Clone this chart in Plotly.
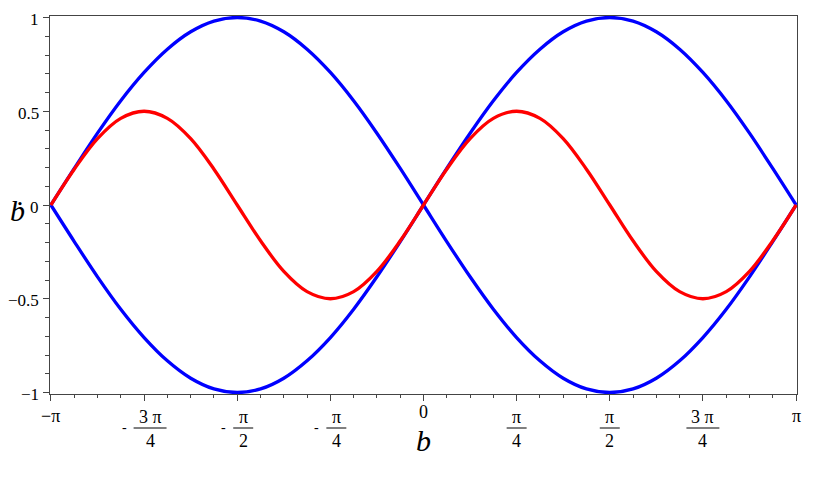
import math
import plotly.graph_objects as go

# b values, steps of pi/16 from -pi to pi
b = [-3.142, -2.945, -2.749, -2.553, -2.356, -2.160, -1.963, -1.767, -1.571,
     -1.374, -1.178, -0.982, -0.785, -0.589, -0.393, -0.196, 0.000,
     0.196, 0.393, 0.589, 0.785, 0.982, 1.178, 1.374, 1.571,
     1.767, 1.963, 2.160, 2.356, 2.553, 2.749, 2.945, 3.142]

blue_upper = [0, 0.195, 0.383, 0.556, 0.707, 0.831, 0.924, 0.981, 1.000,
              0.981, 0.924, 0.831, 0.707, 0.556, 0.383, 0.195, 0,
              -0.195, -0.383, -0.556, -0.707, -0.831, -0.924, -0.981, -1.000,
              -0.981, -0.924, -0.831, -0.707, -0.556, -0.383, -0.195, 0]

blue_lower = [0, -0.195, -0.383, -0.556, -0.707, -0.831, -0.924, -0.981, -1.000,
              -0.981, -0.924, -0.831, -0.707, -0.556, -0.383, -0.195, 0,
              0.195, 0.383, 0.556, 0.707, 0.831, 0.924, 0.981, 1.000,
              0.981, 0.924, 0.831, 0.707, 0.556, 0.383, 0.195, 0]

red = [0, 0.191, 0.354, 0.462, 0.500, 0.462, 0.354, 0.191, 0,
       -0.191, -0.354, -0.462, -0.500, -0.462, -0.354, -0.191, 0,
       0.191, 0.354, 0.462, 0.500, 0.462, 0.354, 0.191, 0,
       -0.191, -0.354, -0.462, -0.500, -0.462, -0.354, -0.191, 0]

y_ticks = [1, 0.5, 0, -0.5, -1]
y_ticktext = ['1', '0.5', '0', '\u22120.5', '\u22121']

# x tick labels: (position in units of pi/4, sign, numerator, denominator)
x_labels = [(-4, '\u2212', '\u03c0', None),
            (-3, '-', '3 \u03c0', '4'),
            (-2, '-', '\u03c0', '2'),
            (-1, '-', '\u03c0', '4'),
            (0, '', '0', None),
            (1, '', '\u03c0', '4'),
            (2, '', '\u03c0', '2'),
            (3, '', '3 \u03c0', '4'),
            (4, '', '\u03c0', None)]

serif = 'Liberation Serif, Times New Roman, serif'
px_to_x = 2 * math.pi / 746

fig = go.Figure()
for ys in (blue_upper, blue_lower):
    fig.add_trace(go.Scatter(x=b, y=ys, mode='lines', line_shape='spline',
                             line=dict(color='#0000ff', width=3.3)))
fig.add_trace(go.Scatter(x=b, y=red, mode='lines', line_shape='spline',
                         line=dict(color='#ff0000', width=3.3)))

annotations = []
shapes = []
for k, sign, num, den in x_labels:
    xv = k * math.pi / 4
    if den is None:
        shift = -22 if num != '0' else -18
        annotations.append(dict(x=xv, y=0, xref='x', yref='paper', text=sign + num,
                                showarrow=False, yanchor='middle', yshift=shift,
                                font=dict(family=serif, size=18, color='black')))
        continue
    w = 20 if len(num) == 1 else 33
    cx = xv + (6 if sign else 0) * px_to_x
    annotations.append(dict(x=cx, y=0, xref='x', yref='paper', text=num,
                            showarrow=False, yanchor='middle', yshift=-23,
                            font=dict(family=serif, size=18, color='black')))
    annotations.append(dict(x=cx, y=0, xref='x', yref='paper', text=den,
                            showarrow=False, yanchor='middle', yshift=-47,
                            font=dict(family=serif, size=18, color='black')))
    half = w / 2 * px_to_x
    shapes.append(dict(type='line', xref='x', yref='paper', ysizemode='pixel',
                       yanchor=0, x0=cx - half, x1=cx + half, y0=-34, y1=-34,
                       line=dict(color='black', width=1)))
    if sign:
        annotations.append(dict(x=cx - half, y=0, xref='x', yref='paper', text=sign,
                                showarrow=False, xanchor='right', yanchor='middle',
                                yshift=-33, xshift=-5,
                                font=dict(family=serif, size=14, color='black')))

for val, txt in zip(y_ticks, y_ticktext):
    annotations.append(dict(x=0, y=val, xref='paper', yref='y', text=txt,
                            showarrow=False, xanchor='right', yanchor='middle',
                            xshift=-9, yshift=-2,
                            font=dict(family=serif, size=17, color='black')))

annotations.append(dict(x=0, y=0, xref='x', yref='paper', text='<i>b</i>',
                        showarrow=False, yanchor='middle', yshift=-46,
                        font=dict(family=serif, size=30, color='black')))
# y-axis title: b with a dot above
annotations.append(dict(x=0, y=0.5, xref='paper', yref='paper', text='<i>\u1e03</i>',
                        showarrow=False, xanchor='left', yanchor='middle',
                        xshift=-42, yshift=-5,
                        font=dict(family=serif, size=30, color='black')))

# the page body adds an 8px margin, so the figure is sized to fit inside it
fig.update_layout(
    width=814, height=478,
    margin=dict(l=42, r=25, t=8, b=92, autoexpand=False),
    plot_bgcolor='white', paper_bgcolor='white',
    showlegend=False,
    annotations=annotations, shapes=shapes,
    font=dict(family=serif, size=16, color='black'),
)
fig.update_xaxes(range=[-math.pi - 0.008, math.pi + 0.008],
                 tickvals=[k * math.pi / 4 for k in range(-4, 5)],
                 ticktext=[''] * 9, automargin=False,
                 ticks='outside', ticklen=6, tickcolor='#444',
                 minor=dict(tickmode='linear', tick0=-math.pi, dtick=math.pi / 16,
                            ticks='outside', ticklen=3, tickcolor='#444'),
                 showgrid=False, zeroline=False,
                 showline=True, linecolor='#444', linewidth=1, mirror=True)
fig.update_yaxes(range=[-1.008, 1.008],
                 tickvals=y_ticks, ticktext=[''] * 5, automargin=False,
                 ticks='outside', ticklen=6, tickcolor='#444',
                 minor=dict(tickmode='linear', tick0=0, dtick=0.1,
                            ticks='outside', ticklen=4, tickcolor='#444'),
                 showgrid=False, zeroline=False,
                 showline=True, linecolor='#444', linewidth=1, mirror=True)

fig.write_html("out.html")
